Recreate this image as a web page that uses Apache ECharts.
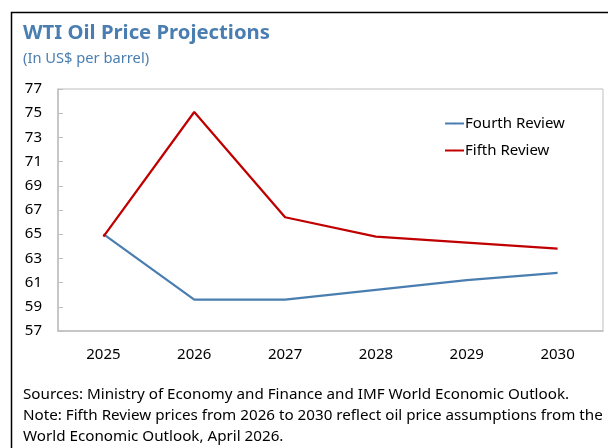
<!DOCTYPE html>
<html>
<head>
<meta charset="utf-8">
<script src="https://cdn.jsdelivr.net/npm/echarts@6/dist/echarts.min.js"></script>
<style>
  html, body { margin: 0; padding: 0; background: #fff; }
  #chart { width: 608px; height: 448px; }
</style>
</head>
<body>
<div id="chart"></div>
<script>
// WTI oil price projections, US$ per barrel
const years = ['2025', '2026', '2027', '2028', '2029', '2030'];
const fourthReview = [65.0, 59.6, 59.6, 60.4, 61.2, 61.8];
const fifthReview = [64.8, 75.1, 66.4, 64.8, 64.3, 63.8];
const yTicks = [57, 59, 61, 63, 65, 67, 69, 71, 73, 75, 77];

const FONT = '"Noto Sans", "Open Sans", sans-serif';
const BLUE = '#4A7EB0';
const RED = '#C00000';
const AXIS_GREY = '#BFBFBF';

const chart = echarts.init(document.getElementById('chart'), null, { renderer: 'canvas' });

chart.setOption({
  animation: false,
  backgroundColor: '#fff',
  textStyle: { fontFamily: FONT },
  grid: {
    left: 58, right: 5, top: 89, bottom: 117,
    show: true, borderColor: AXIS_GREY, borderWidth: 1
  },
  title: {
    text: 'WTI Oil Price Projections',
    subtext: '(In US$ per barrel)',
    left: 18, top: 18,
    itemGap: 8,
    textStyle: { fontFamily: FONT, fontSize: 20.3, fontWeight: 'bold', color: BLUE },
    subtextStyle: { fontFamily: FONT, fontSize: 14.7, color: BLUE }
  },
  legend: {
    orient: 'vertical',
    left: 439, top: 111,
    itemWidth: 19, itemHeight: 2, itemGap: 12,
    textStyle: { fontFamily: FONT, fontSize: 15, color: '#000', padding: [0, 0, 0, -4] },
    data: ['Fourth Review', 'Fifth Review']
  },
  xAxis: {
    type: 'category',
    data: years,
    boundaryGap: true,
    axisLine: { lineStyle: { color: AXIS_GREY, width: 1.5 } },
    axisTick: { inside: true, length: 5, lineStyle: { color: AXIS_GREY } },
    axisLabel: { margin: 16, fontFamily: FONT, fontSize: 15, color: '#000' },
    splitLine: { show: false }
  },
  yAxis: {
    type: 'value',
    min: 57, max: 77,
    axisLine: { show: true, lineStyle: { color: AXIS_GREY, width: 1.5 } },
    axisTick: { show: true, inside: true, length: 5, customValues: yTicks, lineStyle: { color: AXIS_GREY } },
    axisLabel: { customValues: yTicks, margin: 16, fontFamily: FONT, fontSize: 15, color: '#000' },
    splitLine: { show: false }
  },
  series: [
    {
      name: 'Fourth Review', type: 'line', data: fourthReview,
      symbol: 'none', lineStyle: { color: BLUE, width: 2.25 }, itemStyle: { color: BLUE }
    },
    {
      name: 'Fifth Review', type: 'line', data: fifthReview,
      symbol: 'none', lineStyle: { color: RED, width: 2.25 }, itemStyle: { color: RED }
    }
  ],
  graphic: [
    {
      type: 'rect', silent: true, z: -1,
      shape: { x: 11.5, y: 12.5, width: 700, height: 500 },
      style: { fill: 'none', stroke: '#000', lineWidth: 1.5 }
    },
    {
      type: 'text', left: 23, top: 384,
      style: {
        text: 'Sources: Ministry of Economy and Finance and IMF World Economic Outlook.\n' +
              'Note: Fifth Review prices from 2026 to 2030 reflect oil price assumptions from the\n' +
              'World Economic Outlook, April 2026.',
        fontFamily: FONT, fontSize: 15.2, lineHeight: 21, fill: '#000'
      }
    }
  ]
});
</script>
</body>
</html>
